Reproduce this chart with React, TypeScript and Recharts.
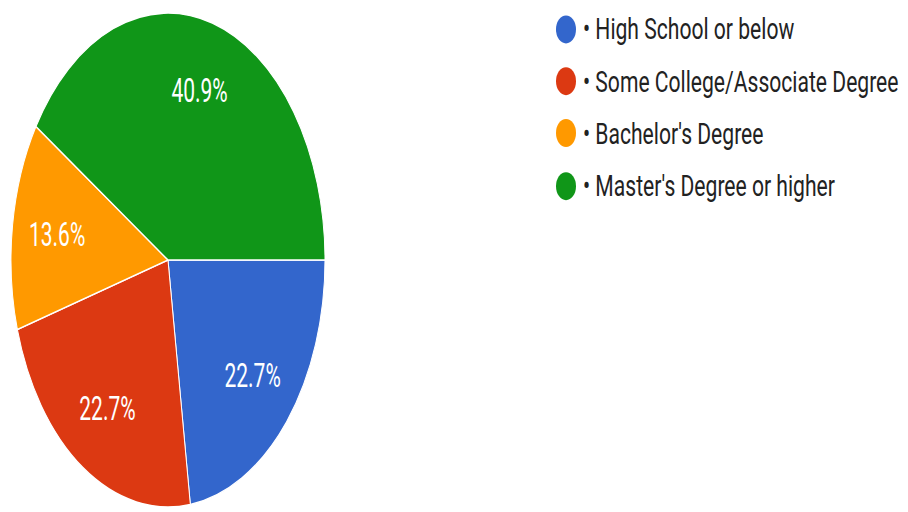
import { PieChart, Pie, Cell, Legend } from "recharts";

// Survey: highest education level (Google Forms style pie)
const categories = [
  "High School or below",
  "Some College/Associate Degree",
  "Bachelor's Degree",
  "Master's Degree or higher",
];
const counts = [5, 5, 3, 9];
const colors = ["#3366cc", "#dc3912", "#ff9900", "#109618"];

// the reference is stretched vertically; draw flat and scale up
const STRETCH = 1.573;
const LEGEND_STRETCH = 1.4;
const WIDTH = 908;
const HEIGHT = Math.round(512 / STRETCH);

const data = categories.map((name, i) => ({ name, value: counts[i] }));

const RADIAN = Math.PI / 180;

function renderLabel(props: any) {
  const { cx, cy, midAngle, percent } = props;
  const r = 112;
  const x = cx + r * Math.cos(-midAngle * RADIAN);
  const y = cy + r * Math.sin(-midAngle * RADIAN);
  return (
    <text
      x={x}
      y={y}
      fill="#ffffff"
      fontSize={21}
      fontFamily="Roboto, Arial, sans-serif"
      textAnchor="middle"
      dominantBaseline="central"
    >
      {(percent * 100).toFixed(1)}%
    </text>
  );
}

function LegendContent() {
  return (
    <div style={{ paddingTop: 2 }}>
      {categories.map((name, i) => (
        <div
          key={name}
          style={{
            display: "flex",
            alignItems: "center",
            height: 37.4,
            whiteSpace: "nowrap",
          }}
        >
          <span
            style={{
              display: "inline-block",
              width: 20,
              height: 20,
              borderRadius: "50%",
              background: colors[i],
              marginRight: 7,
            }}
          />
          <span
            style={{
              fontFamily: "Roboto, Arial, sans-serif",
              fontSize: 21.1,
              color: "#222222",
            }}
          >
            {"\u2022 " + name}
          </span>
        </div>
      ))}
    </div>
  );
}

export default function App() {
  return (
    <div
      style={{
        position: "absolute",
        left: 0,
        top: 0,
        width: WIDTH,
        height: HEIGHT,
        background: "#ffffff",
        transform: `scaleY(${STRETCH})`,
        transformOrigin: "0 0",
      }}
    >
      <PieChart
        width={WIDTH}
        height={HEIGHT}
        margin={{ top: 0, right: 0, bottom: 0, left: 0 }}
      >
        <Pie
          data={data}
          dataKey="value"
          nameKey="name"
          cx={168}
          cy={165.3}
          outerRadius={157}
          startAngle={0}
          endAngle={-360}
          stroke="#ffffff"
          strokeWidth={1}
          label={renderLabel}
          labelLine={false}
          isAnimationActive={false}
        >
          {data.map((d, i) => (
            <Cell key={d.name} fill={colors[i]} />
          ))}
        </Pie>
        <Legend
          layout="vertical"
          align="right"
          verticalAlign="top"
          content={<LegendContent />}
          wrapperStyle={{
            position: "absolute",
            left: 556,
            top: 0,
            width: 352,
            transform: `scaleY(${LEGEND_STRETCH / STRETCH})`,
            transformOrigin: "0 0",
          }}
        />
      </PieChart>
    </div>
  );
}
